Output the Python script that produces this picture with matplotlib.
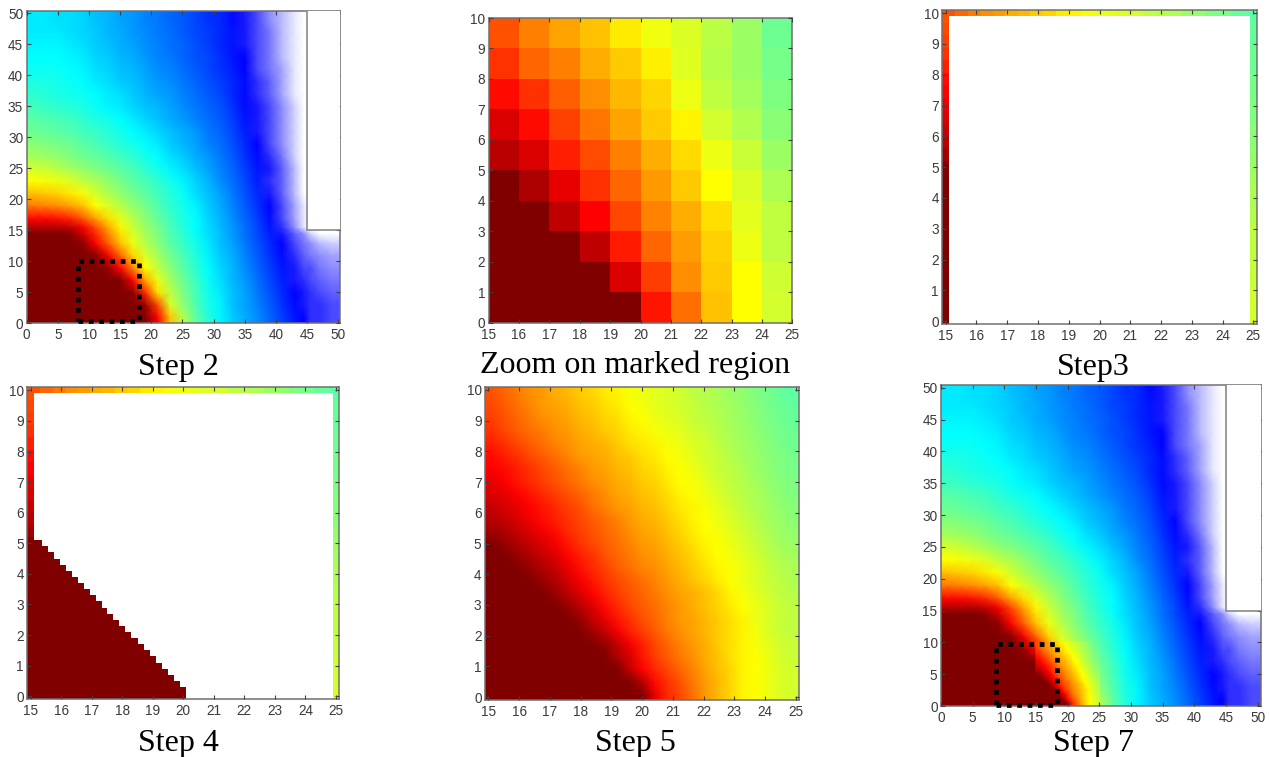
import numpy as np
import matplotlib
matplotlib.use('Agg')
import matplotlib.pyplot as plt
from matplotlib.colors import LinearSegmentedColormap
from matplotlib.patches import Rectangle

# Coarse map (steps 2 and 7), rows from y=0 upward. Level 0 = dark red, 89 = blue, 100 = white
coarse_rows = [
    [0,0,0,0,0,0,0,0,0,0,11,30,44,53,60,65,69,72,75,79,83,87,89,91,91,92],
    [0,0,0,0,0,0,0,0,0,2,18,40,48,55,61,65,70,73,76,80,84,88,90,91,91,92],
    [0,0,0,0,0,0,0,0,1,15,33,43,50,56,62,66,70,73,77,81,85,89,90,91,92,93],
    [0,0,0,0,0,0,0,0,11,27,38,46,52,57,63,67,71,74,78,82,86,90,91,92,93,94],
    [0,0,0,0,0,0,2,11,24,36,43,49,54,59,64,68,71,75,79,83,87,90,92,92,94,95],
    [0,0,0,0,0,1,10,21,32,40,46,51,56,60,65,69,72,76,80,84,88,91,93,94,95,96],
    [0,0,0,0,1,11,20,30,38,44,49,54,58,62,66,70,73,77,81,85,89,92,94,95,97,98],
    [0,0,0,1,7,15,24,33,40,46,50,55,59,63,67,70,74,78,82,86,90,93,95,98,100,100],
    [5,5,5,6,10,18,27,35,42,47,51,56,60,64,67,71,74,78,82,87,91,95,99],
    [12,12,13,15,20,27,33,39,44,49,53,57,61,64,68,71,75,79,83,88,92,96,99],
    [23,24,25,27,30,36,40,44,48,51,55,59,62,65,69,72,76,80,84,89,92,96,99],
    [30,31,32,34,37,41,45,48,51,54,57,60,63,67,70,73,77,81,85,90,93,97,100],
    [36,37,38,40,43,45,48,51,54,56,59,62,65,68,71,75,78,82,86,91,93,97,100],
    [41,42,44,46,48,50,52,54,56,59,62,65,67,70,73,76,79,83,87,90,93,97,100],
    [46,47,48,50,52,53,55,57,59,62,64,67,69,72,74,77,80,84,88,91,94,98,100],
    [49,50,51,52,54,56,58,60,62,64,66,69,71,73,76,78,81,85,89,92,95,98,100],
    [52,53,54,55,57,58,60,62,64,66,68,70,72,74,77,79,82,86,90,92,95,98,100],
    [54,55,56,57,59,61,62,64,66,68,70,72,74,76,78,80,83,87,90,92,95,98,100],
    [57,58,59,60,61,63,65,66,68,70,71,73,75,77,79,81,84,88,90,92,95,98,100],
    [59,60,61,62,63,64,66,67,69,71,73,74,76,78,80,82,85,88,91,93,96,99,100],
    [61,61,62,63,64,66,67,69,70,72,74,75,77,79,81,83,85,88,91,93,96,99,100],
    [63,63,63,64,65,67,68,70,71,73,75,76,78,80,82,84,86,89,92,94,96,99,100],
    [64,64,64,65,66,68,69,71,72,74,76,77,79,81,82,84,87,89,92,94,97,99,100],
    [65,65,65,66,67,69,70,72,73,75,76,78,79,81,83,85,87,90,92,94,97,99,100],
    [66,66,66,67,68,69,71,72,74,75,77,78,80,82,83,85,87,90,92,94,97,99,100],
    [66,66,67,67,68,70,71,73,74,76,77,79,80,82,84,85,88,90,92,95,97,99,100],
]
coarse_x = [0,1,3,5,7,9,11,13,15,17,19,21,23,25,27,29,31,33,35,37,39,41,43,44.5,45.5,47,49,51]
coarse_y = [0,1,3,5,7,9,11,13,14.5,15.5,17,19,21,23,25,27,29,31,33,35,37,39,41,43,45,47,49,51]

# Zoom on marked region, 10x10 cells
zoom_rows = [
    [0,0,0,0,0,13,22,30,36,41],
    [0,0,0,0,8,17,25,31,36,41.5],
    [0,0,0,5.5,13.5,21,26.5,31.5,38,43],
    [0,0,5.5,11,18,24,28,33,39,43],
    [0,4,9,16,21,26,31,36,40,45],
    [5,8,14,18.5,23.5,28,32.5,38,42,47],
    [8,12,17.5,22.5,27,31,35,41,44.5,49],
    [12,16,20.5,25,29,32,38,43,46,50],
    [16,21,23.5,28,31,34.5,39.5,44,47,51],
    [19,23.5,27,30,34,37.5,40,43.5,47,52],
]

# Fine map (step 5), rows from y=0 upward
fine_rows = [
    [0,0,0,0,0,0,0,0,0,0,0,0,0,9,15,18,22,26,29,32,35,36,38,40,41],
    [0,0,0,0,0,0,0,0,0,0,0,0,5,12,16,19,23,26,29,32,35,36,38,40,41],
    [0,0,0,0,0,0,0,0,0,0,0,6,11,15,18,21,24,27,30,32,35,36,38,40,41],
    [0,0,0,0,0,0,0,0,0,0,4,8,13,17,20,23,25,28,30,33,35,36,38,41,42],
    [0,0,0,0,0,0,0,0,0,2,6,10,14,18,21,24,26,28,31,33,35,37,39,41,42],
    [0,0,0,0,0,0,0,0,3,6,10,14,17,20,23,25,27,29,31,33,35,37,40,42,43],
    [0,0,0,0,0,0,0,2,6,9,13,16,19,21,24,26,27,29,31,33,35,38,40,42,43],
    [0,0,0,0,0,0,2,5,8,12,15,18,20,22,24,26,28,30,32,34,36,38,40,42,43],
    [0,0,0,0,0,2,5,8,11,14,17,19,21,23,25,27,28,30,32,35,37,39,41,43,44],
    [0,0,0,0,2,4,7,10,13,16,18,20,22,24,26,28,30,32,34,36,38,40,42,43,45],
    [0,0,0,2,4,6,9,12,15,17,20,22,24,25,27,29,31,33,35,36,38,40,42,44,45],
    [0,0,2,4,6,8,11,14,16,19,21,23,25,26,28,30,32,34,36,37,39,41,43,45,46],
    [0,2,4,6,8,10,13,16,18,20,22,24,26,27,29,31,33,35,36,38,40,42,44,46,47],
    [3,4,6,8,10,12,15,17,19,21,23,25,27,28,30,32,34,36,37,39,41,43,45,47,48],
    [5,6,8,10,12,14,16,18,20,22,24,26,28,29,31,33,35,36,38,40,42,44,46,47,49],
    [6,8,9,11,13,15,17,19,22,24,26,27,29,30,32,34,35,37,39,41,43,45,46,48,49],
    [8,9,11,13,15,17,19,21,23,25,27,28,30,31,33,35,36,38,40,42,44,45,47,49,50],
    [9,11,13,15,17,19,21,23,25,26,28,29,31,32,34,36,37,39,41,43,44,46,48,49,50],
    [11,12,14,16,18,20,22,24,26,27,29,30,32,33,35,36,38,40,42,43,45,47,48,50,51],
    [12,14,16,18,20,22,24,26,27,28,30,31,33,34,36,37,39,41,42,44,46,47,49,50,51],
    [14,16,18,20,22,24,25,27,28,29,31,33,34,35,37,38,40,41,43,45,46,48,49,51,52],
    [16,18,20,22,23,25,26,28,29,31,32,34,35,37,38,39,41,42,44,45,47,48,50,51,52],
    [17,19,21,23,25,26,27,29,30,32,33,35,36,38,39,40,42,43,44,46,47,49,50,52,53],
    [18,20,22,24,26,27,28,30,31,33,34,36,37,39,40,41,42,44,45,46,48,49,51,52,53],
    [19,21,23,25,26,28,29,31,32,34,35,37,38,39,40,41,43,44,45,47,48,50,51,53,54],
]

# Right end of the dark red staircase in step 4, from y=0 upward
stair_ends = [20.1,20.1,19.9,19.7,19.5,19.3,19.1,18.9,18.7,18.5,18.3,18.1,17.9,
              17.7,17.5,17.33,17.13,16.93,16.74,16.55,16.36,16.15,15.96,15.77,15.58,15.38]

wide_ticks = [0, 5, 10, 15, 20, 25, 30, 35, 40, 45, 50]
narrow_xticks = list(range(15, 26))
narrow_yticks = list(range(0, 11))

titles = ['Step 2', 'Zoom on marked region', 'Step3', 'Step 4', 'Step 5', 'Step 7']

W, H = 1270, 757
plt.rcParams['font.family'] = ['Liberation Sans', 'DejaVu Sans']

jet_white = LinearSegmentedColormap.from_list('jet_white', [
    (0.00, (0.5, 0, 0)), (0.11, (1, 0, 0)), (0.36, (1, 1, 0)), (0.50, (0.5, 1, 0.5)),
    (0.64, (0, 1, 1)), (0.89, (0, 0, 1)), (1.00, (1, 1, 1))], N=512)
flat = dict(cmap=jet_white, vmin=0, vmax=100, shading='flat', linewidth=0, rasterized=True)
smooth = dict(cmap=jet_white, vmin=0, vmax=100, shading='gouraud', rasterized=True)

# blank block cells take the white end of the scale, the block itself is drawn over them
coarse = np.array([r + [100] * (26 - len(r)) for r in coarse_rows], dtype=float)
coarse = np.pad(coarse, 1, mode='edge')
zoom = np.array(zoom_rows)
fine = np.array(fine_rows, dtype=float)
fine_padded = np.pad(fine, 1, mode='edge')


def make_axes(box, xlim, ylim, xticks, yticks):
    l, t, r, b = box
    ax = fig.add_axes([l / W, 1 - b / H, (r - l) / W, (b - t) / H])
    ax.set_xlim(xlim)
    ax.set_ylim(ylim)
    ax.set_xticks(xticks)
    ax.set_yticks(yticks)
    ax.tick_params(direction='in', top=True, right=True, length=3, width=0.8, pad=2.5,
                   labelsize=9.8, labelcolor='#3a3a3a', color='#404040')
    ax.tick_params(axis='x', pad=3.5)
    for s in ax.spines.values():
        s.set_color('#707070')
        s.set_linewidth(1.1)
    ax.set_axisbelow(False)
    return ax


def draw_wide(ax, box_x, box_y):
    ax.pcolormesh(coarse_x, coarse_y, coarse, **smooth)
    ax.add_patch(Rectangle((45, 15), 7, 37, facecolor='white', edgecolor='#808080', lw=1.1, zorder=3))
    ax.plot([box_x[0], box_x[1], box_x[1], box_x[0], box_x[0]],
            [box_y[0], box_y[0], box_y[1], box_y[1], box_y[0]],
            color='black', lw=3.4, dashes=(1, 1.2), clip_on=False, zorder=5)


def draw_border(ax):
    ax.pcolormesh([14.8, 15.1], fine_y, fine[:, [0]], **flat)
    ax.pcolormesh([24.9, 25.2], fine_y, fine[:, [-1]], **flat)
    ax.pcolormesh(fine_x, [9.9, 10.2], fine[[-1], :], **flat)


fig = plt.figure(figsize=(W / 100, H / 100), dpi=100)

# Step 2
ax = make_axes((26.7, 11, 339.5, 323.3), (0, 50.2), (0, 50.4), wide_ticks, wide_ticks)
draw_wide(ax, (8.2, 18.0), (0.3, 10.1))

# Zoom
ax = make_axes((488.7, 18, 792.3, 322.7), (15, 25), (0, 10), narrow_xticks, narrow_yticks)
ax.pcolormesh(np.arange(15, 26), np.arange(0, 11), zoom, **flat)

fine_x = np.linspace(14.9, 25.1, 26)
fine_y = np.linspace(-0.1, 10.1, 26)
nlim = ((14.89, 25.11), (-0.09, 10.1))

# Step 3
ax = make_axes((942.3, 10, 1256.7, 324), nlim[0], nlim[1], narrow_xticks, narrow_yticks)
draw_border(ax)

# Step 4
ax = make_axes((27.3, 387.3, 339.3, 699), nlim[0], nlim[1], narrow_xticks, narrow_yticks)
draw_border(ax)
stair_y = np.arange(len(stair_ends)) * 0.2
ax.barh(stair_y, np.array(stair_ends) - 14.8, left=14.8, height=0.2, color='#800000', linewidth=0)

# Step 5
ax = make_axes((485, 386.7, 799.3, 700), nlim[0], nlim[1], narrow_xticks, narrow_yticks)
centres_x = np.r_[14.8, (fine_x[:-1] + fine_x[1:]) / 2, 25.2]
centres_y = np.r_[-0.2, (fine_y[:-1] + fine_y[1:]) / 2, 10.2]
ax.pcolormesh(centres_x, centres_y, fine_padded, **smooth)

# Step 7
ax = make_axes((941, 385.3, 1260.7, 706), (0, 50.5), (0, 50.4), wide_ticks, wide_ticks)
draw_wide(ax, (8.7, 18.3), (0.1, 9.8))
inset_x = np.r_[15, np.linspace(15.2, 24.8, 25), 25]
inset_y = np.r_[0, np.linspace(0.2, 9.8, 25), 10]
ax.pcolormesh(inset_x, inset_y, fine_padded, **smooth)

title_pos = [(178, 367), (635, 365), (1093, 367), (178, 743), (635, 743), (1093, 743)]
for (px, py), t in zip(title_pos, titles):
    fig.text(px / W, 1 - py / H, t, family='Liberation Serif', fontsize=23,
             ha='center', va='center', color='black')

fig.savefig('out.png', dpi=100)
